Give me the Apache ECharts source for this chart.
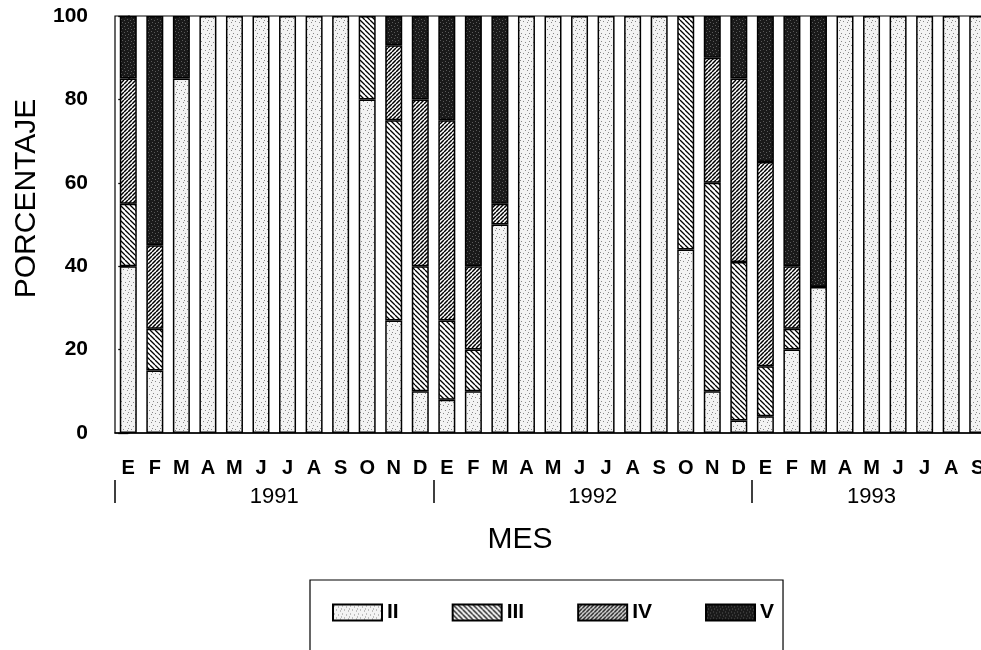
<!DOCTYPE html>
<html>
<head>
<meta charset="utf-8">
<script src="https://cdn.jsdelivr.net/npm/echarts@6/dist/echarts.min.js"></script>
<style>
html,body{margin:0;padding:0;background:#fff;}
#chart{width:981px;height:650px;}
</style>
</head>
<body>
<div id="chart"></div>
<script>
// ---- data ----
const months = ['E','F','M','A','M','J','J','A','S','O','N','D',
                'E','F','M','A','M','J','J','A','S','O','N','D',
                'E','F','M','A','M','J','J','A','S'];
const years = ['1991','1992','1993'];
const yearCenters = [5.5, 17.5, 28];      // category-index positions of the year labels
const yearBreaks = [-0.5, 11.5, 23.5];    // separators between years
const seriesNames = ['II','III','IV','V'];
const valII  = [40,15,85,100,100,100,100,100,100,80,27,10, 8,10,50,100,100,100,100,100,100,44,10,3, 4,20,35,100,100,100,100,100,100];
const valIII = [15,10, 0,  0,  0,  0,  0,  0,  0,20,48,30,19,10, 0,  0,  0,  0,  0,  0,  0,56,50,38,12, 5, 0,  0,  0,  0,  0,  0,  0];
const valIV  = [30,20, 0,  0,  0,  0,  0,  0,  0, 0,18,40,48,20, 5,  0,  0,  0,  0,  0,  0, 0,30,44,49,15, 0,  0,  0,  0,  0,  0,  0];
const valV   = [15,55,15,  0,  0,  0,  0,  0,  0, 0, 7,20,25,60,45,  0,  0,  0,  0,  0,  0, 0,10,15,35,60,65,  0,  0,  0,  0,  0,  0];
const yTicks = [0,20,40,60,80,100];

// ---- fill patterns ----
function makePattern(size, draw){
  const c = document.createElement('canvas');
  c.width = size; c.height = size;
  const ctx = c.getContext('2d');
  draw(ctx, size);
  return {image: c, repeat: 'repeat'};
}
const patII = makePattern(8, (ctx,s)=>{
  ctx.fillStyle = '#f3f3f3'; ctx.fillRect(0,0,s,s);
  ctx.fillStyle = '#888';
  [[1,1],[5,2],[3,5],[7,6],[0,4]].forEach(p=>ctx.fillRect(p[0],p[1],1,1));
});
const patIII = makePattern(5, (ctx,s)=>{
  ctx.fillStyle = '#fff'; ctx.fillRect(0,0,s,s);
  ctx.strokeStyle = '#000'; ctx.lineWidth = 1.3;
  ctx.beginPath();
  [-s,0,s].forEach(o=>{ctx.moveTo(o,0);ctx.lineTo(o+s,s);});
  ctx.stroke();
});
const patIV = makePattern(4, (ctx,s)=>{
  ctx.fillStyle = '#fff'; ctx.fillRect(0,0,s,s);
  ctx.strokeStyle = '#000'; ctx.lineWidth = 1.5;
  ctx.beginPath();
  [-s,0,s].forEach(o=>{ctx.moveTo(o,s);ctx.lineTo(o+s,0);});
  ctx.stroke();
});
const patV = makePattern(6, (ctx,s)=>{
  ctx.fillStyle = '#1a1a1a'; ctx.fillRect(0,0,s,s);
  ctx.fillStyle = '#5a5a5a';
  [[1,1],[4,2],[2,4],[5,5]].forEach(p=>ctx.fillRect(p[0],p[1],1,1));
});
const patterns = [patII, patIII, patIV, patV];
const values = [valII, valIII, valIV, valV];

const FONT = '"Liberation Sans", Arial, Helvetica, sans-serif';

const chart = echarts.init(document.getElementById('chart'), null, {renderer:'canvas'});
chart.setOption({
  animation: false,
  backgroundColor: '#fff',
  grid: {left: 115, top: 16, width: 876, height: 417, show: true,
         borderColor: '#000', borderWidth: 1.2, backgroundColor: 'transparent',
         containLabel: false, outerBoundsMode: 'none'},
  legend: {
    data: seriesNames, left: 310, top: 580, orient: 'horizontal',
    itemWidth: 49, itemHeight: 16, itemGap: 53, selectedMode: false,
    padding: [22, 9, 40, 22], borderColor: '#000', borderWidth: 1.2,
    textStyle: {fontFamily: FONT, fontSize: 21, fontWeight: 'bold', color: '#000'},
    icon: 'rect'
  },
  xAxis: [{
    type: 'category', data: months, boundaryGap: true,
    axisLine: {lineStyle: {color: '#000', width: 1.5}},
    axisTick: {alignWithLabel: true, length: 9, lineStyle: {color: '#000', width: 1.3}},
    axisLabel: {interval: 0, hideOverlap: false, margin: 25, color: '#000',
                fontFamily: FONT, fontSize: 20, fontWeight: 'bold'},
    name: 'MES', nameLocation: 'middle', nameGap: 92,
    nameTextStyle: {fontFamily: FONT, fontSize: 30, color: '#000', padding: [0, 66, 0, 0]}
  }, {
    type: 'value', position: 'bottom', offset: 47, min: -0.5, max: 32.5,
    axisLine: {show: false}, splitLine: {show: false},
    axisTick: {show: true, customValues: yearBreaks, length: 23, lineStyle: {color: '#000', width: 1.5}},
    axisLabel: {customValues: yearCenters, margin: 6, color: '#000',
                fontFamily: FONT, fontSize: 22,
                formatter: v => years[yearCenters.indexOf(v)]}
  }],
  yAxis: {
    type: 'value', min: 0, max: 100, interval: 20,
    axisLine: {show: true, lineStyle: {color: '#000', width: 1.5}},
    axisTick: {show: true, length: 10, lineStyle: {color: '#000', width: 1.3}},
    splitLine: {show: false},
    axisLabel: {margin: 27, color: '#000', fontFamily: FONT, fontSize: 21, fontWeight: 'bold',
                customValues: yTicks},
    name: 'PORCENTAJE', nameLocation: 'middle', nameGap: 48,
    nameTextStyle: {fontFamily: FONT, fontSize: 30, color: '#000', padding: [0, 0, 0, 52]}
  },
  series: seriesNames.map((n, k) => ({
    name: n, type: 'bar', stack: 'total', barWidth: 17, xAxisIndex: 0,
    data: values[k].map(v => v === 0 ? null : v),
    itemStyle: {color: patterns[k], borderColor: '#000', borderWidth: 1.5}
  }))
});
</script>
</body>
</html>
